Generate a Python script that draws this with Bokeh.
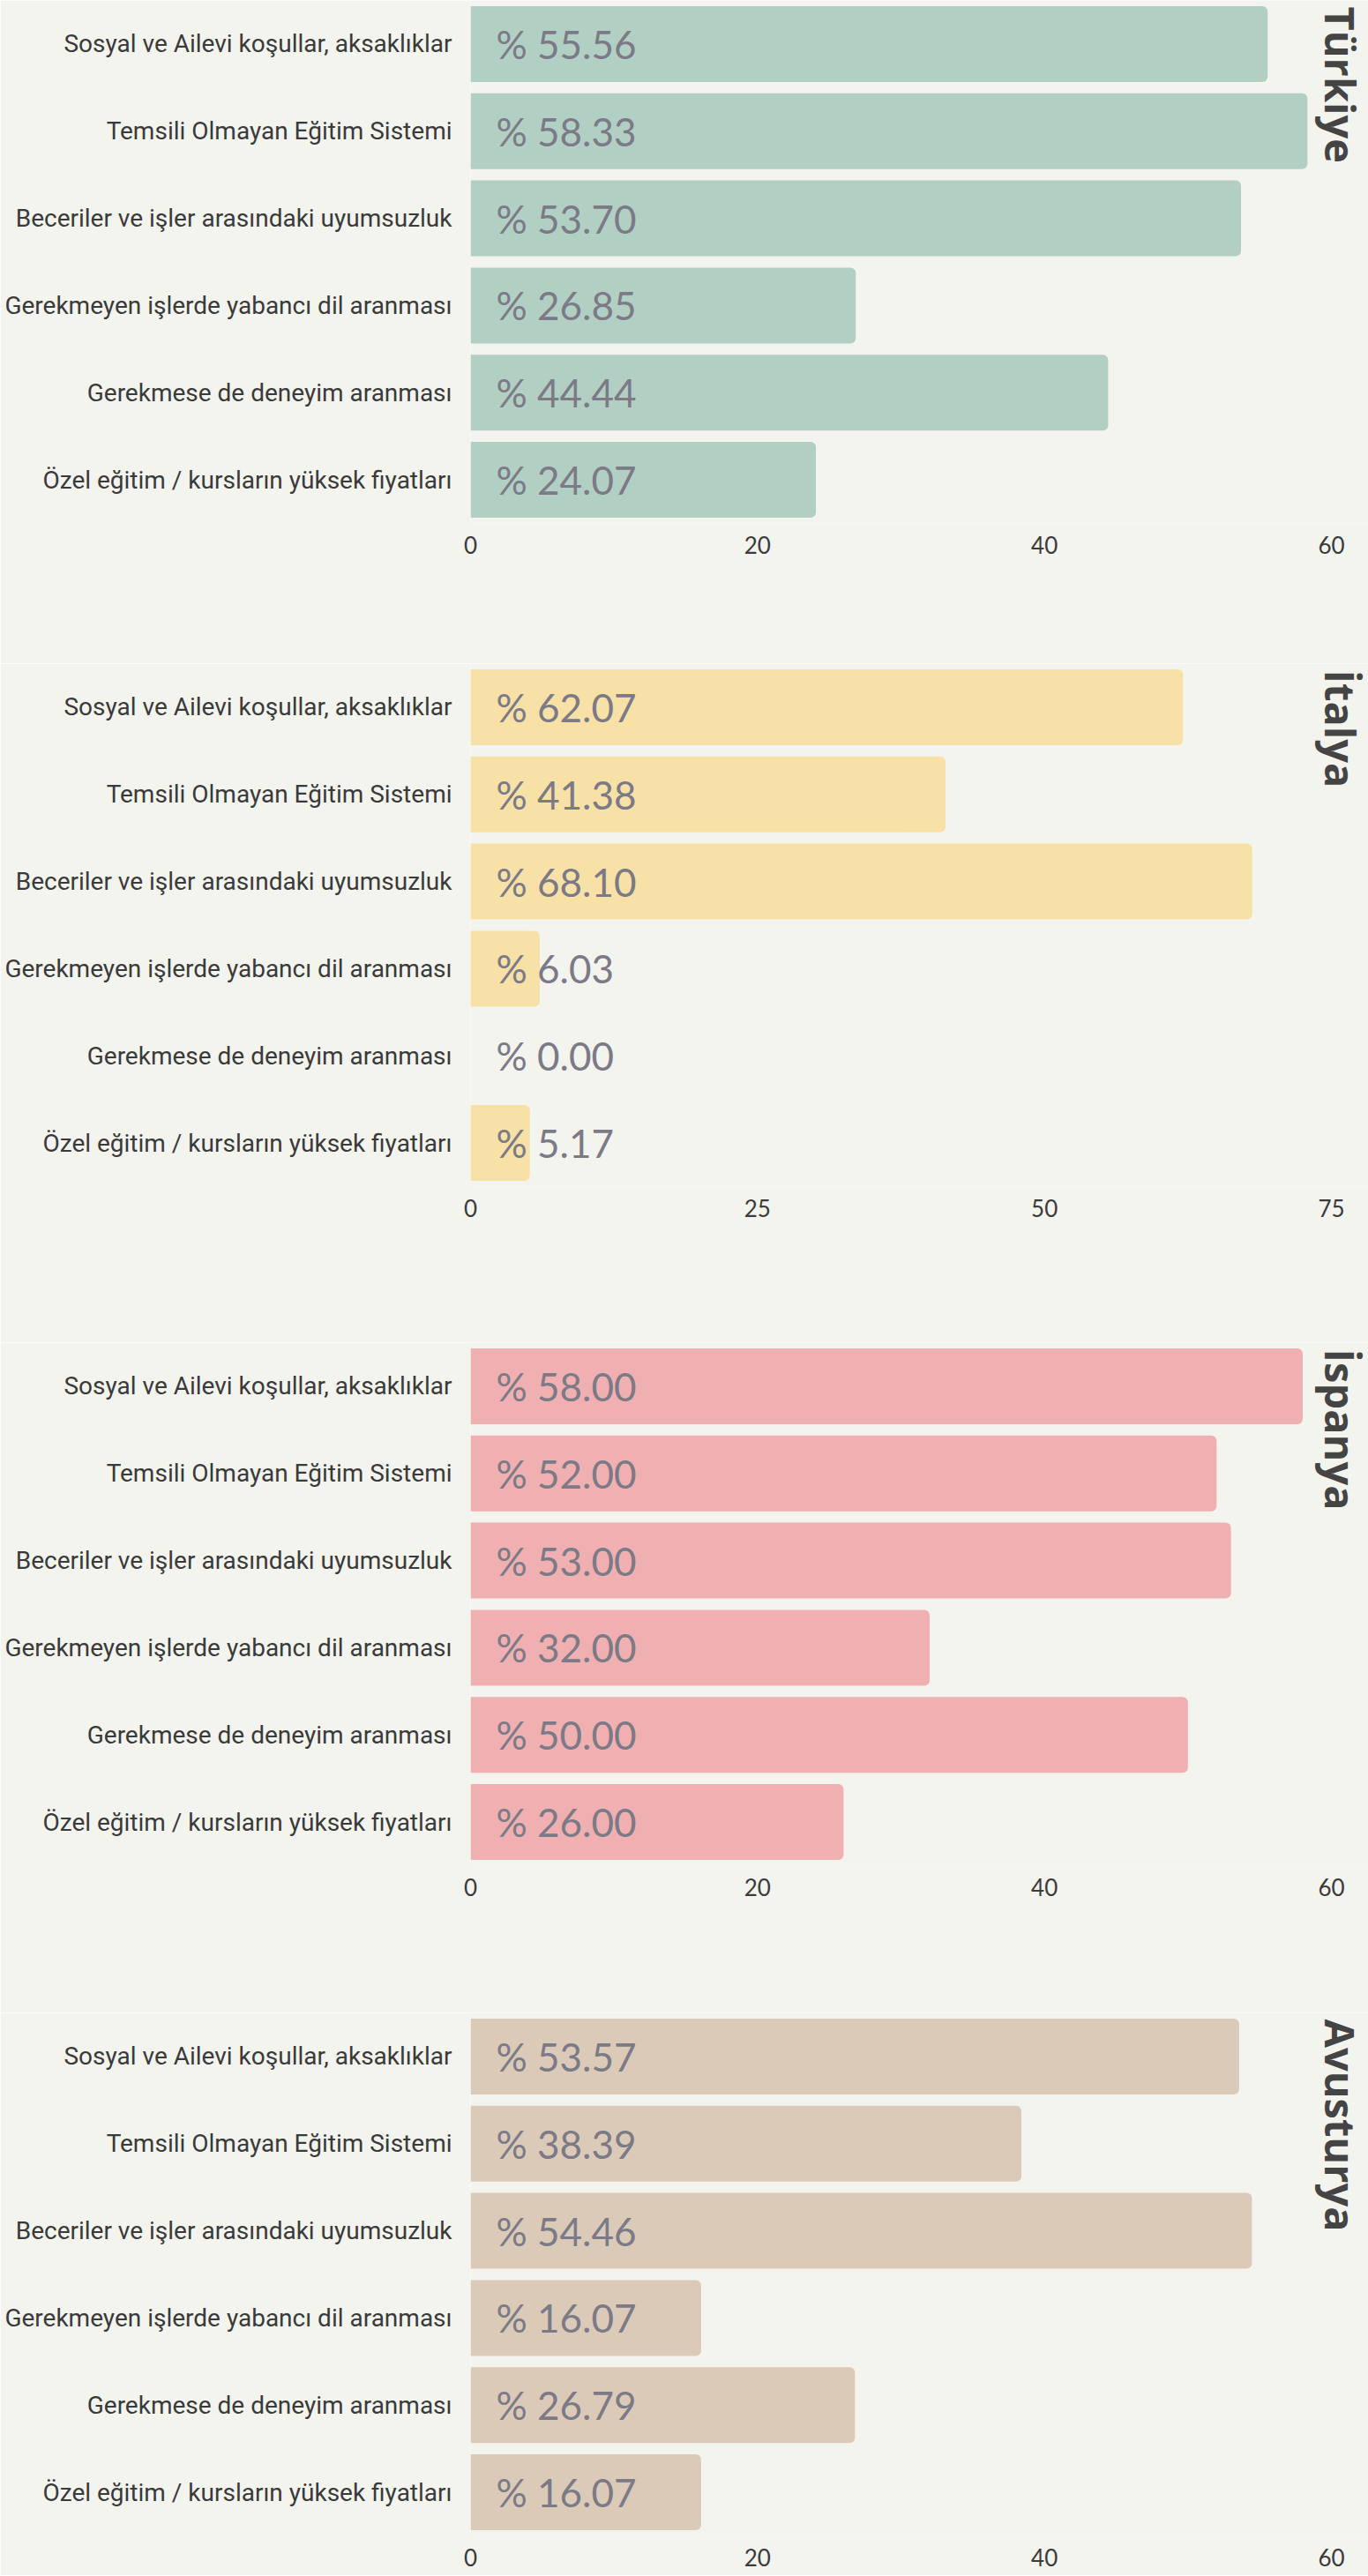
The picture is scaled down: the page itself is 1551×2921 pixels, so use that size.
import math
from bokeh.plotting import figure
from bokeh.models import FactorRange, Range1d, FixedTicker, Label, ColumnDataSource
from bokeh.layouts import column
from bokeh.core.properties import value
from bokeh.embed import file_html
from bokeh.resources import INLINE

categories = [
    "Sosyal ve Ailevi koşullar, aksaklıklar",
    "Temsili Olmayan Eğitim Sistemi",
    "Beceriler ve işler arasındaki uyumsuzluk",
    "Gerekmeyen işlerde yabancı dil aranması",
    "Gerekmese de deneyim aranması",
    "Özel eğitim / kursların yüksek fiyatları",
]

countries = ["Türkiye", "İtalya", "İspanya", "Avusturya"]
turkiye = [55.56, 58.33, 53.70, 26.85, 44.44, 24.07]
italya = [62.07, 41.38, 68.10, 6.03, 0.00, 5.17]
ispanya = [58.00, 52.00, 53.00, 32.00, 50.00, 26.00]
avusturya = [53.57, 38.39, 54.46, 16.07, 26.79, 16.07]
series = [turkiye, italya, ispanya, avusturya]

ticks_turkiye = [0, 20, 40, 60]
ticks_italya = [0, 25, 50, 75]
ticks_ispanya = [0, 20, 40, 60]
ticks_avusturya = [0, 20, 40, 60]
tick_sets = [ticks_turkiye, ticks_italya, ticks_ispanya, ticks_avusturya]

colors = ["#b2cfc3", "#f8e1a7", "#f0b0b1", "#dccab8"]
BG = "#f4f4ef"

# layout (pixels)
W = 1551
FRAME_LEFT = 533        # where 0 sits
AXIS_END_PX = 1509      # where the last tick sits
FRAME_H = 593
heights = [752, 770, 760, 638]
stretch = (W - FRAME_LEFT) / (AXIS_END_PX - FRAME_LEFT)

figs = []
for i, (name, vals, ticks, col) in enumerate(zip(countries, series, tick_sets, colors)):
    h = heights[i]
    p = figure(
        width=W, height=h,
        y_range=FactorRange(factors=list(reversed(categories))),
        x_range=Range1d(0, ticks[-1] * stretch),
        output_backend="svg", toolbar_location=None,
        min_border_left=FRAME_LEFT, min_border_right=0,
        min_border_top=0, min_border_bottom=h - FRAME_H,
        background_fill_color=BG, border_fill_color=BG,
        outline_line_color=None,
    )
    src = ColumnDataSource(dict(
        cat=categories, val=vals,
        label=["% {:.2f}".format(v) for v in vals],
        zero=[0] * len(vals),
    ))
    p.hbar(y="cat", left="zero", right="val", height=0.87, source=src,
           fill_color=col, line_color=None, border_radius=(0, 6, 6, 0))
    p.text(x="zero", y="cat", text="label", source=src,
           x_offset=29, text_baseline="middle", text_align="left",
           text_font=value("Lato"), text_font_size="44px", text_color="#7b7a86")

    p.xgrid.visible = False
    p.ygrid.visible = False

    p.xaxis.ticker = FixedTicker(ticks=ticks)
    p.xaxis.axis_line_color = None
    p.xaxis.major_tick_line_color = None
    p.xaxis.minor_tick_line_color = None
    p.xaxis.major_tick_out = 0
    p.xaxis.major_label_standoff = 14
    p.xaxis.major_label_text_font = "Lato"
    p.xaxis.major_label_text_font_size = "26px"
    p.xaxis.major_label_text_color = "#3b3b3b"

    p.yaxis.axis_line_color = None
    p.yaxis.major_tick_line_color = None
    p.yaxis.minor_tick_line_color = None
    p.yaxis.major_tick_out = 0
    p.yaxis.major_label_standoff = 21
    p.yaxis.major_label_text_font = "Roboto"
    p.yaxis.major_label_text_font_size = "28px"
    p.yaxis.major_label_text_color = "#3a3a3a"

    p.add_layout(Label(
        x=ticks[-1], y=len(categories), x_offset=10, y_offset=-7,
        text=name, angle=-math.pi / 2,
        text_align="left", text_baseline="middle",
        text_font="Open Sans", text_font_style="bold",
        text_font_size="47px", text_color="#444444",
    ))
    figs.append(p)

layout = column(*figs, spacing=0)
open("out.html", "w").write(file_html(layout, INLINE))
